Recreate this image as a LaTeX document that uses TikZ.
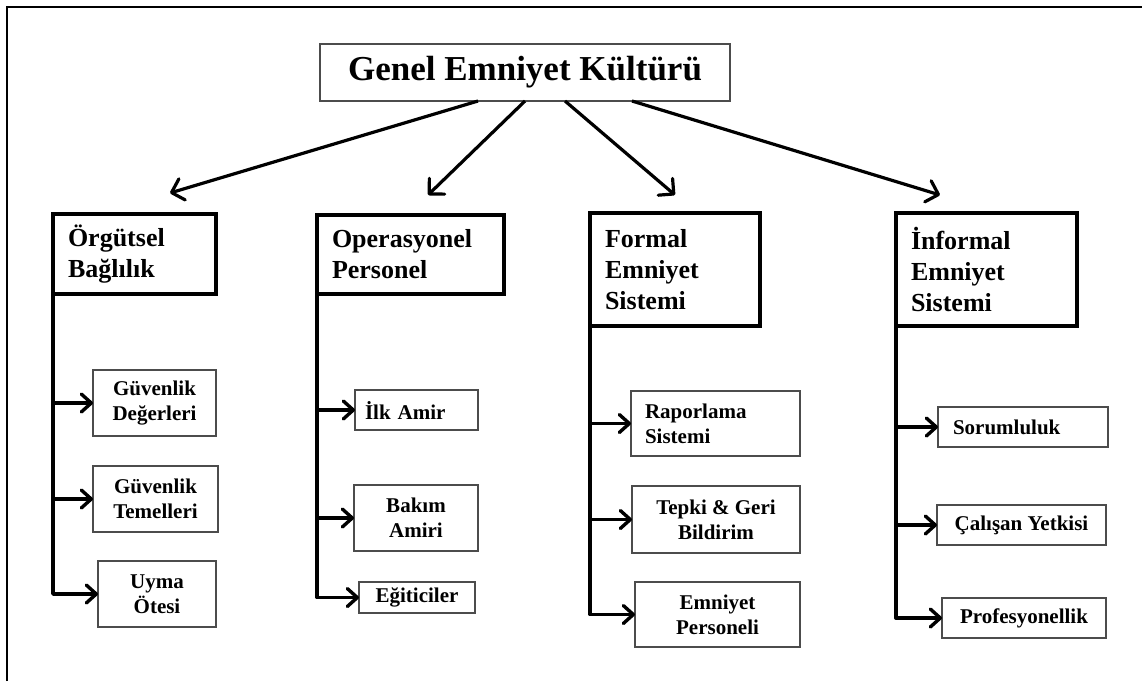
\documentclass[tikz,border=0pt]{standalone}
\usepackage{fontspec}
\setmainfont{Liberation Serif}
\usetikzlibrary{arrows.meta,calc}

% Box placed by its corner coordinates: name, x1, y1, x2, y2, style, text
\newcommand\placebox[7]{%
  \pgfmathsetmacro\bw{#4-#2}\pgfmathsetmacro\bh{#5-#3}%
  \pgfmathsetmacro\cx{(#2+#4)/2}\pgfmathsetmacro\cy{(#3+#5)/2}%
  \node[#6, minimum width=\bw pt, minimum height=\bh pt] (#1) at (\cx,\cy) {#7};}

\tikzset{
  rootbox/.style={draw=black!70, line width=1.5pt, outer sep=0pt, inner sep=0pt,
    font=\fontsize{35}{40}\selectfont\bfseries},
  mainbox/.style={draw=black, line width=4pt, outer sep=0pt, inner ysep=0pt,
    inner xsep=15pt, text width=\bw pt-30pt, align=left,
    font=\fontsize{26}{31}\selectfont\bfseries},
  subbox/.style={draw=black!70, line width=1.5pt, outer sep=0pt, inner sep=0pt,
    align=center, font=\fontsize{21}{25}\selectfont\bfseries},
  leftsub/.style={subbox, inner xsep=#1pt, text width=\bw pt-2*#1pt, align=left},
  feed/.style={line width=3.2pt,
    -{Straight Barb[length=11pt,width=22pt,line width=3.2pt,round]}},
  spine/.style={line width=3.8pt, line join=round,
    -{Straight Barb[length=10pt,width=18pt,line width=3.4pt,round]}},
}

\begin{document}
\begin{tikzpicture}[x=1pt,y=-1pt]
\useasboundingbox (0,0) rectangle (1142,681);

% frame
\draw[line width=2pt] (7,681) -- (7,7) -- (1142,7);

% root
\placebox{top}{320}{44}{730}{101}{rootbox}{Genel Emniyet Kültürü}

% main branches
\placebox{o}{53}{214}{216}{294}{mainbox}{Örgütsel\\Bağlılık}
\placebox{p}{317}{215}{504}{294}{mainbox}{Operasyonel\\Personel}
\placebox{f}{590}{213}{760}{326}{mainbox}{Formal\\Emniyet\\Sistemi}
\placebox{i}{896}{213}{1077}{326}{mainbox}{İnformal\\Emniyet\\Sistemi}

% sub items
\placebox{o1}{93}{370}{216}{436}{subbox}{Güvenlik\\Değerleri}
\placebox{o2}{93}{466}{218}{532}{subbox}{Güvenlik\\Temelleri}
\placebox{o3}{98}{561}{216}{627}{subbox}{Uyma\\Ötesi}

\placebox{p1}{355}{390}{478}{430}{leftsub=10}{İlk Amir}
\placebox{p2}{354}{485}{478}{551}{subbox}{Bakım\\Amiri}
\placebox{p3}{359}{582}{475}{613}{subbox}{Eğiticiler}

\placebox{f1}{631}{391}{800}{456}{leftsub=14}{Raporlama\\Sistemi}
\placebox{f2}{632}{486}{800}{553}{subbox}{Tepki \& Geri\\Bildirim}
\placebox{f3}{635}{582}{800}{647}{subbox}{Emniyet\\Personeli}

\placebox{i1}{938}{407}{1108}{447}{leftsub=15}{Sorumluluk}
\placebox{i2}{937}{505}{1106}{545}{subbox}{Çalışan Yetkisi}
\placebox{i3}{942}{598}{1106}{638}{subbox}{Profesyonellik}

% arrow ends above the main branches
\coordinate (eo) at (170,193);
\coordinate (ep) at (428,195);
\coordinate (ef) at (675,195);
\coordinate (ei) at (940,195);

\draw[feed] ($(top.south)+(-47,0)$) -- (eo);
\draw[feed] (top.south) -- (ep);
\draw[feed] ($(top.south)+(40,0)$) -- (ef);
\draw[feed] ($(top.south)+(107,0)$) -- (ei);

% spines with their branches
\foreach \m in {o,p,f,i}{
  \draw[spine] (\m.south west) |- (\m3.west);
  \draw[spine] (\m.south west |- \m1.west) -- (\m1.west);
  \draw[spine] (\m.south west |- \m2.west) -- (\m2.west);
}
\end{tikzpicture}
\end{document}
